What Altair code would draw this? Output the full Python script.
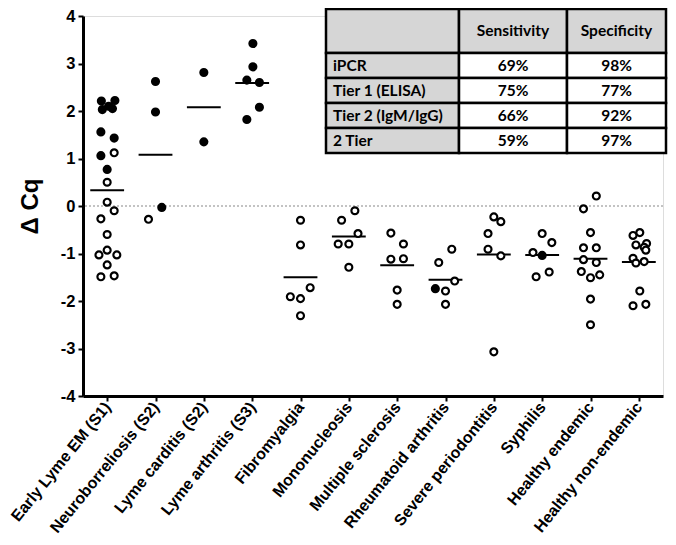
import json
import altair as alt
import pandas as pd

categories = [
    "Early Lyme EM (S1)", "Neuroborreliosis (S2)", "Lyme carditis (S2)",
    "Lyme arthritis (S3)", "Fibromyalgia", "Mononucleosis",
    "Multiple sclerosis", "Rheumatoid arthritis", "Severe periodontitis",
    "Syphilis", "Healthy endemic", "Healthy non-endemic",
]

# delta Cq values per group
values = [
    [2.21, 2.22, 2.03, 2.10, 2.05, 1.56, 1.43, 1.06, 0.77,
     1.12, 0.50, 0.08, -0.10, -0.27, -0.60, -1.03, -0.93, -1.03, -1.24, -1.49, -1.47],
    [2.62, 1.98, -0.28, -0.03],
    [2.81, 1.35],
    [3.42, 2.93, 2.65, 2.60, 2.08, 1.82],
    [-0.30, -0.82, -1.72, -1.91, -1.95, -2.31],
    [-0.10, -0.30, -0.58, -0.80, -0.80, -1.29],
    [-0.57, -0.80, -1.12, -1.11, -1.77, -2.07],
    [-0.91, -1.19, -1.58, -1.74, -1.79, -2.07],
    [-0.23, -0.33, -0.58, -0.91, -1.05, -3.07],
    [-0.58, -0.77, -0.98, -1.04, -1.39, -1.49],
    [0.21, -0.06, -0.56, -0.88, -0.88, -1.13, -1.19, -1.38, -1.45, -1.51, -1.96, -2.50],
    [-0.62, -0.56, -0.79, -0.82, -0.87, -0.93, -1.10, -1.17, -1.20, -1.79, -2.10, -2.07],
]

# horizontal jitter of each point (fraction of a category step)
jitter = [
    [-0.12, 0.16, -0.10, 0.03, 0.11, -0.13, 0.145, -0.13, 0.0,
     0.145, 0.0, 0.0, 0.145, -0.13, 0.0, -0.17, 0.0, 0.2, 0.0, -0.13, 0.145],
    [0.0, 0.0, -0.145, 0.13],
    [0.0, 0.0],
    [0.015, 0.015, -0.11, 0.15, 0.15, -0.11],
    [0.0, 0.0, 0.2, -0.21, 0.0, 0.0],
    [0.125, -0.15, 0.19, -0.22, 0.0, 0.0],
    [-0.13, 0.13, -0.13, 0.13, 0.0, 0.0],
    [0.13, -0.14, 0.19, -0.21, 0.0, 0.0],
    [0.0, 0.145, -0.12, -0.12, 0.145, 0.0],
    [0.0, 0.2, -0.19, 0.0, 0.145, -0.125],
    [0.12, -0.145, 0.0, -0.145, 0.12, -0.145, 0.12, -0.19, 0.19, 0.0, 0.0, 0.0],
    [-0.12, 0.02, 0.16, -0.06, 0.11, 0.145, -0.12, 0.11, -0.06, 0.02, -0.12, 0.145],
]

# 1 = filled (positive) point, 0 = open point
filled = [
    [1] * 9 + [0] * 12,
    [1, 1, 0, 1],
    [1, 1],
    [1] * 6,
    [0] * 6,
    [0] * 6,
    [0] * 6,
    [0, 0, 0, 1, 0, 0],
    [0] * 6,
    [0, 0, 0, 1, 0, 0],
    [0] * 12,
    [0] * 12,
]

means = [0.33, 1.08, 2.08, 2.59, -1.50, -0.64, -1.245, -1.55, -1.02, -1.03, -1.11, -1.18]

table_header = ["", "Sensitivity", "Specificity"]
table_tests = ["iPCR", "Tier 1 (ELISA)", "Tier 2 (IgM/IgG)", "2 Tier"]
table_sens = ["69%", "75%", "66%", "59%"]
table_spec = ["98%", "77%", "92%", "97%"]

# ---------- build tables ----------
rows = []
for gi, (vals, jit, fl) in enumerate(zip(values, jitter, filled)):
    for v, j, f in zip(vals, jit, fl):
        rows.append({"pos": gi + 1 + j, "dcq": v, "filled": bool(f)})
pts = pd.DataFrame(rows)

mean_df = pd.DataFrame({
    "x0": [i + 1 - 0.35 for i in range(len(means))],
    "x1": [i + 1 + 0.35 for i in range(len(means))],
    "m": means,
})

FONT = "Liberation Sans"
xs = alt.Scale(domain=[0.5, 12.5], nice=False, zero=False)
ys = alt.Scale(domain=[-4, 4], nice=False)

label_expr = "%s[datum.value - 1]" % json.dumps(categories)

points = alt.Chart(pts).mark_point(
    shape="circle", filled=True, size=48, stroke="black", strokeWidth=2.2, opacity=1
).encode(
    x=alt.X("pos:Q", scale=xs, axis=alt.Axis(
        values=list(range(1, 13)), labelExpr=label_expr, labelAngle=-51,
        labelAlign="right", labelBaseline="middle", labelFont=FONT,
        labelFontSize=16, labelFontWeight="bold", labelColor="black",
        labelPadding=3, tickSize=5, tickWidth=2, tickColor="black",
        domainWidth=3, domainColor="black", grid=False, title=None,
        labelOverlap=False, labelBound=False, labelFlush=False)),
    y=alt.Y("dcq:Q", scale=ys, axis=alt.Axis(
        values=list(range(-4, 5)), labelExpr="'' + datum.value",
        labelFont=FONT, labelFontSize=16.5,
        labelFontWeight="bold", labelColor="black", labelPadding=3,
        tickSize=5, tickWidth=2, tickColor="black", domainWidth=3,
        domainColor="black", grid=False, title="\u0394 Cq", titleFont=FONT,
        titleFontSize=24, titleFontWeight="bold", titleColor="black",
        titlePadding=18, labelFlush=False)),
    fill=alt.condition(alt.datum.filled, alt.value("black"), alt.value("white")),
)

zero = alt.Chart(pd.DataFrame({"z": [0]})).mark_rule(
    color="#888888", strokeWidth=1.2, strokeDash=[2, 2]
).encode(y=alt.Y("z:Q", scale=ys))

mean_lines = alt.Chart(mean_df).mark_rule(color="black", strokeWidth=2).encode(
    x=alt.X("x0:Q", scale=xs), x2="x1:Q", y=alt.Y("m:Q", scale=ys)
)

main = alt.layer(zero, mean_lines, points)

# ---------- inset table ----------
cells = []
texts = []
for c, h in enumerate(table_header):
    cells.append({"c0": c, "c1": c + 1, "r0": 0, "r1": 1, "gray": True})
    if h:
        texts.append({"cx": c + 0.5, "ry": 0.5, "t": h, "left": False})
for r, (name, s, p) in enumerate(zip(table_tests, table_sens, table_spec)):
    rr = r + 1
    cells.append({"c0": 0, "c1": 1, "r0": rr, "r1": rr + 1, "gray": True})
    cells.append({"c0": 1, "c1": 2, "r0": rr, "r1": rr + 1, "gray": False})
    cells.append({"c0": 2, "c1": 3, "r0": rr, "r1": rr + 1, "gray": False})
    texts.append({"cx": 0.0, "ry": rr + 0.5, "t": name, "left": True})
    texts.append({"cx": 1.5, "ry": rr + 0.5, "t": s, "left": False})
    texts.append({"cx": 2.5, "ry": rr + 0.5, "t": p, "left": False})
cells_df = pd.DataFrame(cells)
texts_df = pd.DataFrame(texts)

tx = alt.Scale(domain=[0, 1, 2, 3], range=[243, 376, 484, 583], zero=False, nice=False)
ty = alt.Scale(domain=[0, 1, 2, 3, 4, 5], range=[-7, 37, 62, 87, 112, 137], zero=False, nice=False)

cell_layer = alt.Chart(cells_df).mark_rect(stroke="black", strokeWidth=2.5).encode(
    x=alt.X("c0:Q", scale=tx, axis=None), x2="c1:Q",
    y=alt.Y("r0:Q", scale=ty, axis=None), y2="r1:Q",
    fill=alt.condition(alt.datum.gray, alt.value("#d6d6d6"), alt.value("white")),
)
TFONT = "Lato"
left_text = alt.Chart(texts_df).transform_filter(alt.datum.left).mark_text(
    align="left", baseline="middle", dx=7, font=TFONT, fontSize=15.5,
    fontWeight="bold", color="black"
).encode(x=alt.X("cx:Q", scale=tx, axis=None), y=alt.Y("ry:Q", scale=ty, axis=None), text="t:N")
center_text = alt.Chart(texts_df).transform_filter("!datum.left").mark_text(
    align="center", baseline="middle", font=TFONT, fontSize=15.5,
    fontWeight="bold", color="black"
).encode(x=alt.X("cx:Q", scale=tx, axis=None), y=alt.Y("ry:Q", scale=ty, axis=None), text="t:N")

table = alt.layer(cell_layer, left_text, center_text)

chart = alt.layer(main, table).resolve_scale(x="independent", y="independent").properties(
    width=580, height=380,
    autosize=alt.AutoSizeParams(type="none"),
    padding={"left": 75, "top": 8, "right": 5, "bottom": 141},
).configure_view(stroke=None).configure(background="white")

chart.save("out.html", embed_options={"renderer": "svg", "actions": False})
